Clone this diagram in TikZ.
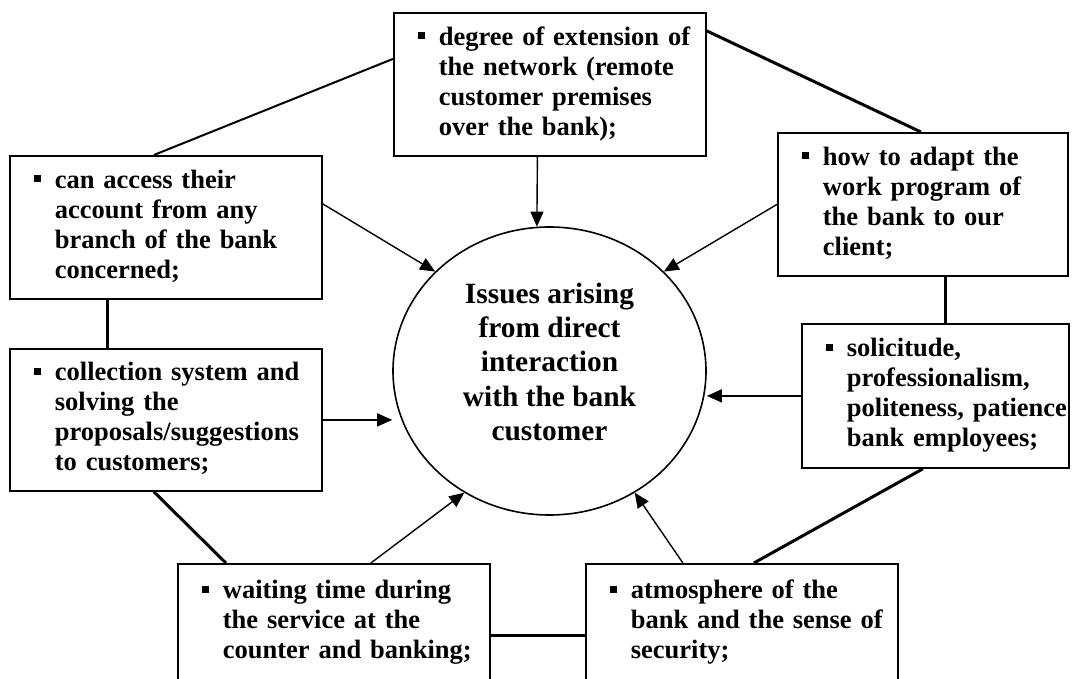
\documentclass[tikz,border=0pt]{standalone}
\usepackage{fontspec}
\setmainfont{Liberation Serif}
\usepackage{tikz}
\usetikzlibrary{arrows.meta, shapes.geometric, calc}

\newcommand{\bpoint}[1]{\noindent\hspace*{24pt}\makebox[21pt][l]{\rule[6pt]{7pt}{7pt}}\begin{tabular}[t]{@{}l@{}}#1\end{tabular}}

\begin{document}
\begin{tikzpicture}[x=1pt, y=-1pt,
  box/.style={draw, line width=1.8pt, inner sep=0pt, anchor=north west, align=left,
              font=\fontsize{26.5pt}{30pt}\selectfont\bfseries},
  link/.style={line width=3pt},
  arr/.style={-{Triangle[length=15pt, width=13pt]}, line width=1.4pt}
]
  \clip (0,0) rectangle (1080,679);

  % Centre
  \node[ellipse, draw, line width=1.6pt, minimum width=313pt, minimum height=288pt, inner sep=0pt,
        font=\fontsize{29.4pt}{34.25pt}\selectfont\bfseries] (issues) at (549.5,371)
        {\begin{tabular}{@{}c@{}}Issues arising\\from direct\\interaction\\with the bank\\customer\\[12pt]\end{tabular}};

  % Boxes
  \node[box, text width=312pt, minimum height=143pt] (reach) at (393,12)
        {\bpoint{degree of extension of\\the network (remote\\customer premises\\over the bank);}};
  \node[box, text width=312pt, minimum height=143pt] (access) at (9,155)
        {\bpoint{can access their\\account from any\\branch of the bank\\concerned;}};
  \node[box, text width=290pt, minimum height=143pt] (program) at (777,132)
        {\bpoint{how to adapt the\\work program of\\the bank to our\\client;}};
  \node[box, text width=312pt, minimum height=142pt] (proposals) at (9,348)
        {\bpoint{collection system and\\solving the\\proposals/suggestions\\to customers;}};
  \node[box, text width=267pt, minimum height=144pt] (employees) at (801,323)
        {\bpoint{solicitude,\\professionalism,\\politeness, patience\\bank employees;}};
  \node[box, text width=312pt, minimum height=118pt] (waiting) at (177,563)
        {\bpoint{waiting time during\\the service at the\\counter and banking;}};
  \node[box, text width=312pt, minimum height=118pt] (atmosphere) at (585,563)
        {\bpoint{atmosphere of the\\bank and the sense of\\security;}};

  % Ring of links
  \draw[line width=2pt] ([yshift=25.5pt]reach.west) -- ([xshift=-12pt]access.north);
  \draw[link] ([yshift=53.5pt]reach.east) -- ([xshift=-2pt]program.north);
  \draw[link] ([xshift=-58pt]access.south) -- ([xshift=-58pt]proposals.north);
  \draw[link] ([xshift=-12pt]proposals.south) -- ([xshift=-108pt]waiting.north);
  \draw[link] ([yshift=-13pt]waiting.east) -- ([yshift=-13pt]atmosphere.west);
  \draw[link] ([xshift=12pt]atmosphere.north) -- ([xshift=-12.5pt]employees.south);
  \draw[link] ([xshift=23pt]program.south) -- ([xshift=10.5pt]employees.north);

  % Arrows
  \draw[arr] ([xshift=-12.5pt]reach.south) -- (issues.95);
  \draw[arr] ([yshift=23.5pt]access.east) -- (issues.139);
  \draw[arr] (program.west) -- (issues.41);
  \draw[arr] (proposals.east) -- (proposals.east -| issues.west);
  \draw[arr] (employees.west) -- (employees.west -| issues.east);
  \draw[arr] ([xshift=37pt]waiting.north) -- (issues.235);
  \draw[arr] ([xshift=-59pt]atmosphere.north) -- (issues.305);
\end{tikzpicture}
\end{document}
